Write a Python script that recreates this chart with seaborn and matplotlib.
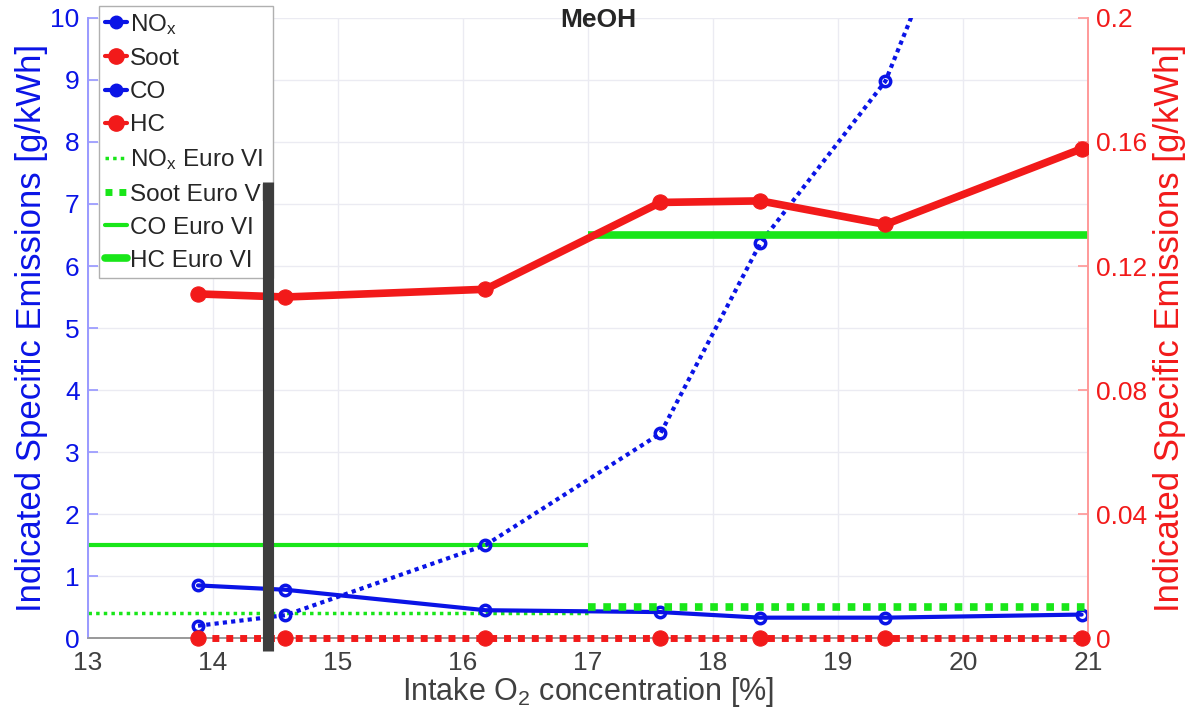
import numpy as np
import pandas as pd
import matplotlib
matplotlib.use("Agg")
import matplotlib.pyplot as plt
import seaborn as sns
from matplotlib.lines import Line2D

sns.set_theme(style="whitegrid")
plt.rcParams['font.family'] = ['Liberation Sans', 'DejaVu Sans']
plt.rcParams['mathtext.default'] = 'regular'

# intake O2 concentration [%]
o2 = [13.88, 14.58, 16.18, 17.58, 18.38, 19.38, 20.95]

# left axis [g/kWh]
nox = [0.2, 0.37, 1.5, 3.3, 6.37, 8.98, 16.8]
co = [0.85, 0.78, 0.45, 0.42, 0.33, 0.33, 0.38]

# right axis [g/kWh]
soot = [0.0, 0.0, 0.0, 0.0, 0.0, 0.0, 0.0]
hc = [0.111, 0.110, 0.1125, 0.1405, 0.141, 0.1334, 0.1578]

# Euro VI limits: (value, x start, x end)
nox_limit = (0.4, 13, 17)
co_limit = (1.5, 13, 17)
soot_limit = (0.01, 17, 21)
hc_limit = (0.13, 17, 21)

# dark vertical bar in the original picture
bar_x = 14.44
bar_range = (-0.2, 7.35)

blue = "#0a14e6"
red = "#f21a1a"
green = "#19e619"

df = pd.DataFrame({"o2": o2, "nox": nox, "co": co, "soot": soot, "hc": hc})

fig = plt.figure(figsize=(11.96, 7.17), dpi=100)
pos = [0.0736, 0.110, 0.836, 0.865]
ax = fig.add_axes(pos)
ax2 = ax.twinx()

# left axis series + limits
ax.hlines(nox_limit[0], nox_limit[1], nox_limit[2], colors=green, linestyles=(0, (1, 1.2)), lw=2.5, zorder=2)
ax.hlines(co_limit[0], co_limit[1], co_limit[2], colors=green, lw=3, zorder=2)
sns.lineplot(data=df, x="o2", y="nox", ax=ax, color=blue, linestyle=(0, (1, 1)), lw=3,
             marker="o", markersize=7.5, markerfacecolor="none", markeredgecolor=blue, markeredgewidth=2.5, zorder=3)
sns.lineplot(data=df, x="o2", y="co", ax=ax, color=blue, lw=3,
             marker="o", markersize=7.5, markerfacecolor="none", markeredgecolor=blue, markeredgewidth=2.5, zorder=3)

# right axis series + limits
ax2.hlines(soot_limit[0], soot_limit[1], soot_limit[2], colors=green, linestyles=(0, (1, 1)), lw=5.5, zorder=2)
ax2.hlines(hc_limit[0], hc_limit[1], hc_limit[2], colors=green, lw=5.5, zorder=2)
sns.lineplot(data=df, x="o2", y="soot", ax=ax2, color=red, linestyle=(0, (1, 1)), lw=5,
             marker="o", markersize=11, markeredgecolor=red, zorder=4, clip_on=False)
sns.lineplot(data=df, x="o2", y="hc", ax=ax2, color=red, lw=5.5,
             marker="o", markersize=11, markeredgecolor=red, zorder=4)

ax.set_xlim(13, 21)
ax.set_ylim(0, 10)
ax2.set_ylim(0, 0.2)
ax.set_xticks(range(13, 22))
ax.set_yticks(range(0, 11))
ax2.set_yticks([0, 0.04, 0.08, 0.12, 0.16, 0.2])
ax2.set_yticklabels(["0", "0.04", "0.08", "0.12", "0.16", "0.2"])
ax2.grid(False)
ax.grid(True, color="#ebebf2", lw=1)

ax.set_xlabel("Intake O$_2$ concentration [%]", fontsize=22, color="#404040", labelpad=0)
ax.set_ylabel("Indicated Specific Emissions [g/kWh]", fontsize=25, color=blue, labelpad=2)
ax2.set_ylabel("Indicated Specific Emissions [g/kWh]", fontsize=25, color=red, labelpad=4)
fig.text(0.5, 0.972, "MeOH", ha="center", va="center", fontsize=19, fontweight="bold")

ax.tick_params(axis="x", labelsize=19, colors="#404040", direction="in", length=7, pad=9)
ax.tick_params(axis="y", labelsize=19, colors=blue, direction="in", length=7, pad=6)
ax2.tick_params(axis="y", labelsize=19, colors=red, direction="in", length=7, pad=6)
ax.tick_params(axis="y", color="#9a9aff")
ax2.tick_params(axis="y", color="#ff9a9a")
ax.tick_params(axis="x", color="#9a9a9a")

for a in (ax, ax2):
    a.spines["top"].set_visible(False)
    a.spines["bottom"].set_color("#9a9a9a")
    a.spines["left"].set_color("#9a9aff")
    a.spines["right"].set_color("#ff9a9a")

handles = [
    Line2D([], [], color=blue, lw=3, marker="o", markersize=9),
    Line2D([], [], color=red, lw=3, marker="o", markersize=11),
    Line2D([], [], color=blue, lw=3, marker="o", markersize=9),
    Line2D([], [], color=red, lw=3, marker="o", markersize=11),
    Line2D([], [], color=green, lw=2.5, linestyle=(0, (1, 1.2))),
    Line2D([], [], color=green, lw=5, linestyle=(0, (1, 1))),
    Line2D([], [], color=green, lw=3),
    Line2D([], [], color=green, lw=5.5),
]
labels = ["NO$_x$", "Soot", "CO", "HC", "NO$_x$ Euro VI", "Soot Euro VI", "CO Euro VI", "HC Euro VI"]
leg = fig.legend(handles, labels, loc="upper left", bbox_to_anchor=(0.083, 0.992),
                 fontsize=17.5, handlelength=0.9, handletextpad=0.1, borderpad=0.25,
                 labelspacing=0.46, borderaxespad=0, fancybox=False, framealpha=1)
leg.get_frame().set_edgecolor("#b0b0b0")

# overlay axes so the dark bar sits on top of the legend
ax3 = fig.add_axes(pos, sharex=ax, sharey=ax, zorder=10)
ax3.set_axis_off()
ax3.vlines(bar_x, bar_range[0], bar_range[1], colors="#3d3d3d", lw=8, clip_on=False)

fig.savefig("out.png", dpi=100)
